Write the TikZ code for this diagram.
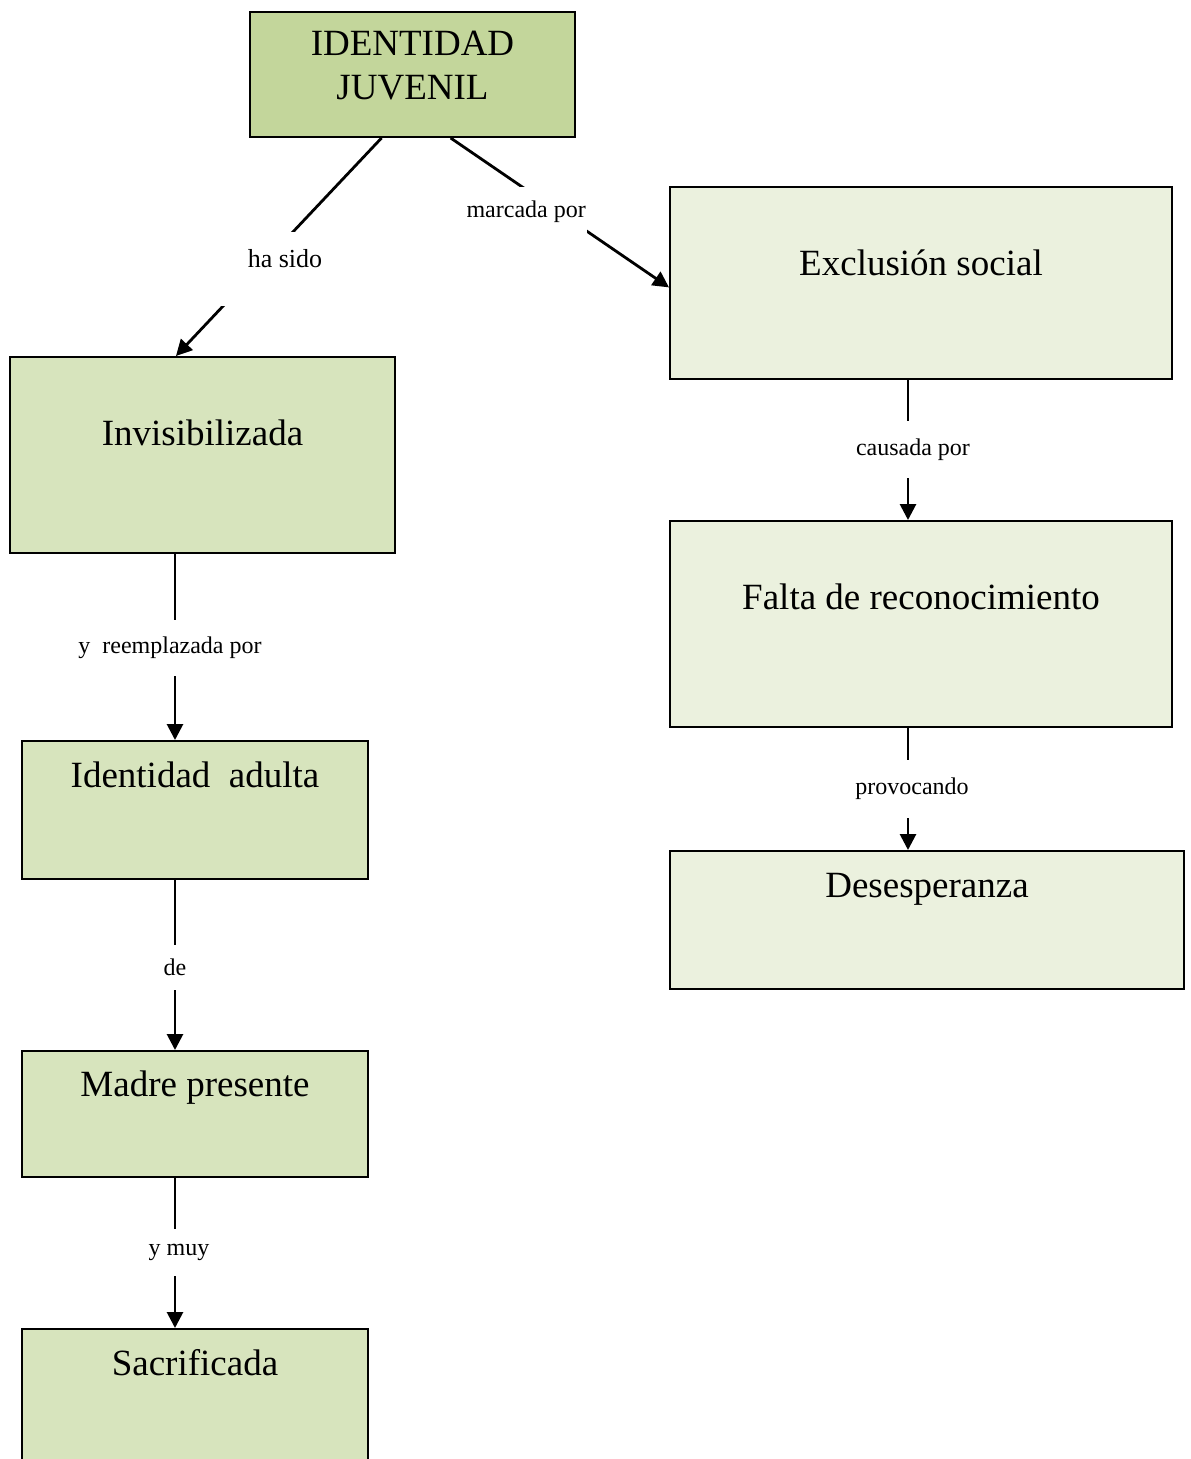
\documentclass[tikz,border=0pt]{standalone}
\usepackage{fontspec}
\setmainfont{Liberation Serif}
\usetikzlibrary{arrows.meta,positioning}
\definecolor{topgreen}{HTML}{C3D69B}
\definecolor{leftgreen}{HTML}{D7E4BD}
\definecolor{rightgreen}{HTML}{EBF1DE}
\tikzset{>={Triangle[length=16pt,width=16pt]}}
\tikzset{
  concept/.style={draw=black,line width=2pt,inner sep=0pt},
  big/.style={font=\fontsize{37}{44}\selectfont,inner sep=0pt,text height=25pt,text depth=8pt},
  link/.style={->,line width=2.8pt},
  word/.style={fill=white,font=\fontsize{24}{28}\selectfont,inner xsep=1pt}
}

\begin{document}
\begin{tikzpicture}[x=1pt,y=-1pt]
      \useasboundingbox (0,0) rectangle (1191,1459);
      \clip (0,0) rectangle (1191,1459);
      \coordinate (lx) at (175,0);
      \coordinate (rx) at (908,0);
      \node[concept,fill=topgreen,minimum width=325pt,minimum height=125pt] (top) at (412.5,74.5) {};
      \node[concept,fill=leftgreen,minimum width=385pt,minimum height=196pt] (inv) at (202.5,455) {};
      \node[concept,fill=leftgreen,minimum width=346pt,minimum height=138pt] (ida) at (195,810) {};
      \node[concept,fill=leftgreen,minimum width=346pt,minimum height=126pt] (mad) at (195,1114) {};
      \node[concept,fill=leftgreen,minimum width=346pt,minimum height=160pt] (sac) at (195,1409) {};
      \node[concept,fill=rightgreen,minimum width=502pt,minimum height=192pt] (exc) at (921,283) {};
      \node[concept,fill=rightgreen,minimum width=502pt,minimum height=206pt] (fal) at (921,624) {};
      \node[concept,fill=rightgreen,minimum width=514pt,minimum height=138pt] (des) at (927,920) {};
      \node[font=\fontsize{37}{44}\selectfont,align=center,inner sep=0pt,below=19.8pt of top.north] (topT) {IDENTIDAD\\JUVENIL};
      \node[big,below=64pt of inv.north] (invT) {Invisibilizada};
      \node[big,below=22pt of ida.north] (idaT) {Identidad~~adulta};
      \node[big,below=21pt of mad.north] (madT) {Madre presente};
      \node[big,below=22pt of sac.north] (sacT) {Sacrificada};
      \node[big,below=64pt of exc.north] (excT) {Exclusión social};
      \node[big,below=64pt of fal.north] (falT) {Falta de reconocimiento};
      \node[big,below=22pt of des.north] (desT) {Desesperanza};
      \draw[link] (top.-116) -- (inv.105.7);
      \draw[link] (top.-59.7) -- (exc.181.4);
      \draw[link] (inv.south -| lx) -- (ida.north -| lx);
      \draw[link] (ida.south -| lx) -- (mad.north -| lx);
      \draw[link] (mad.south -| lx) -- (sac.north -| lx);
      \draw[link] (exc.south -| rx) -- (fal.north -| rx);
      \draw[link] (fal.south -| rx) -- (des.north -| rx);
      \node[word,font=\fontsize{26}{30}\selectfont,inner xsep=32pt,inner ysep=0pt,text height=35pt,text depth=39pt,anchor=north] (hs) at (285,232) {ha sido};
      \node[word,inner ysep=0pt,text height=30pt,text depth=20pt,anchor=north east] (mp) at (587,187) {marcada por};
      \node[word,minimum height=56pt] (rp) at (170,648) {y~~reemplazada por};
      \node[word,minimum height=45pt] (de) at (175,967.5) {de};
      \node[word,minimum height=47pt] (ym) at (179,1252.5) {y muy};
      \node[word,minimum height=57pt] (cp) at (913,449.5) {causada por};
      \node[word,minimum height=58pt] (pv) at (912,789) {provocando};
\end{tikzpicture}
\end{document}
